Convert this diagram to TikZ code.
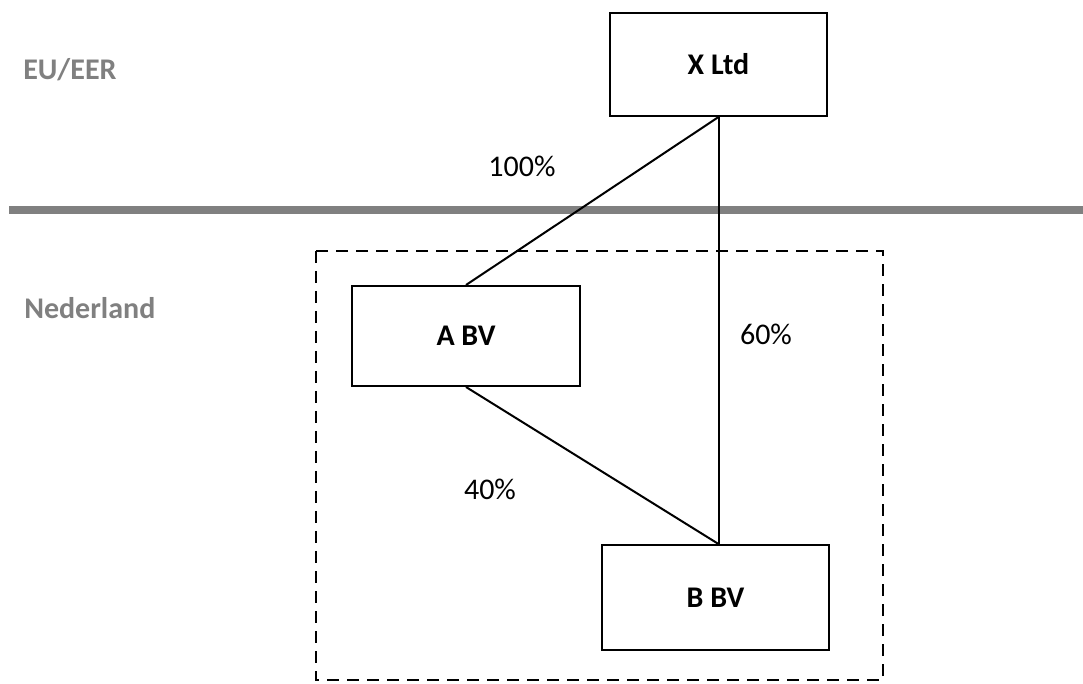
\documentclass[tikz,border=0pt]{standalone}
\usepackage{fontspec}
\setmainfont{Carlito}
\begin{document}
\begin{tikzpicture}[x=0.75pt,y=-0.75pt,
  entity/.style={draw=black,line width=1.5pt,fill=white,inner sep=0pt,font=\fontsize{22.5}{26}\selectfont\bfseries},
  region/.style={text=black!50,font=\fontsize{22.5}{26}\selectfont\bfseries,anchor=west,inner sep=0pt},
  share/.style={font=\fontsize{22.5}{26}\selectfont},
  link/.style={line width=1.5pt}]
\useasboundingbox (0,0) rectangle (1083,684);
% border between the two jurisdictions
\draw[line width=6pt,black!50] (9,210) -- (1083,210);
\node[region] (eu) at (23,70) {EU/EER};
\node[region] (nl) at (24,308) {Nederland};
% Dutch group
\draw[line width=1.4pt,dash pattern=on 9pt off 6pt] (316,251) rectangle (883,680);
% entities
\node[entity,minimum width=162.75pt,minimum height=77.25pt] (x) at (718.5,64.5) {X Ltd};
\node[entity,minimum width=171pt,minimum height=75pt] (a) at (466,336) {A BV};
\node[entity,minimum width=170.25pt,minimum height=78.75pt] (b) at (715.5,597.5) {B BV};
% ownership lines
\draw[link] (x.south) -- (a.north);
\draw[link] (x.south) -- (x.south |- b.north);
\draw[link] (a.south) -- (x.south |- b.north);
\node[share] (p100) at (522,166) {100\%};
\node[share] (p60) at (766,334) {60\%};
\node[share] (p40) at (490,489) {40\%};
\end{tikzpicture}
\end{document}
